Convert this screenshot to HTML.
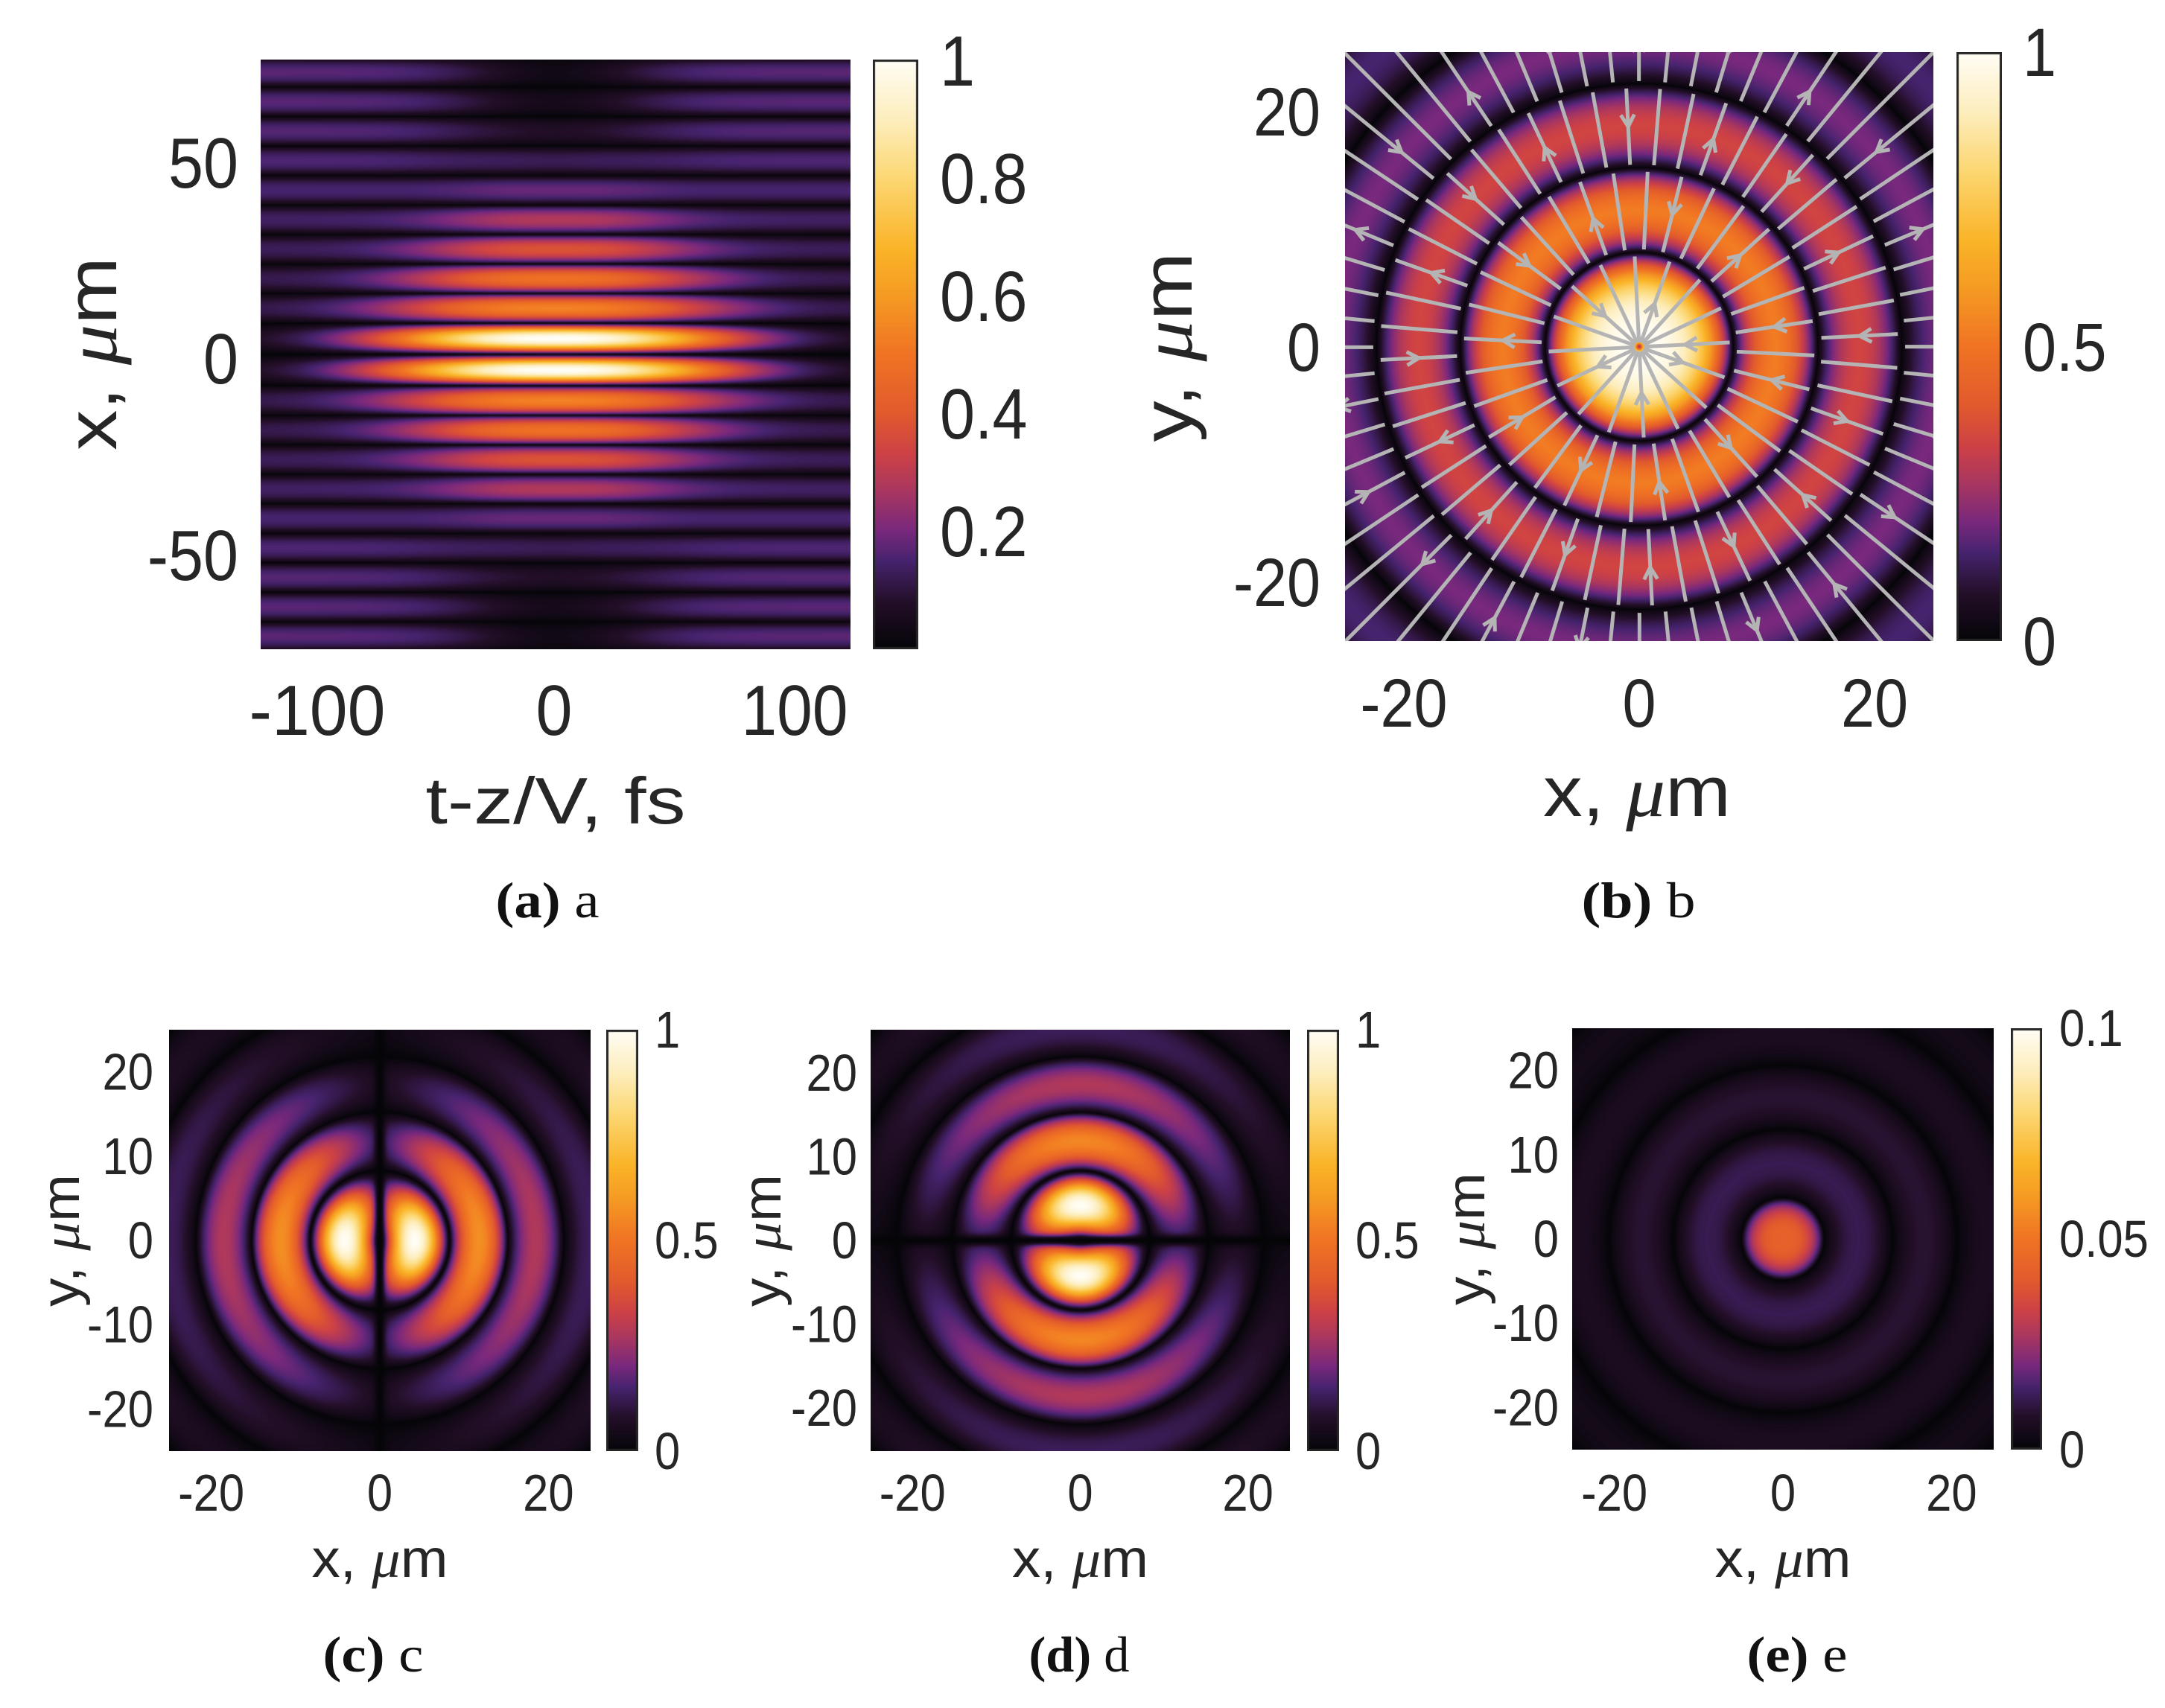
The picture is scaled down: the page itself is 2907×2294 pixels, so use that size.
<!DOCTYPE html>
<html><head><meta charset="utf-8"><style>
html,body{margin:0;padding:0;background:#fff;}
#root{position:relative;width:2907px;height:2294px;overflow:hidden;background:#fff;}
canvas{position:absolute;}
svg{position:absolute;left:0;top:0;}
text{font-family:"Liberation Sans",sans-serif;fill:#262626;}
.cap{font-family:"Liberation Serif",serif;fill:#111;}
</style></head><body>
<div id="root">
<canvas id="cvA"></canvas>
<canvas id="cvB"></canvas>
<canvas id="cvC"></canvas>
<canvas id="cvD"></canvas>
<canvas id="cvE"></canvas>
<canvas id="cbA"></canvas>
<canvas id="cbB"></canvas>
<canvas id="cbC"></canvas>
<canvas id="cbD"></canvas>
<canvas id="cbE"></canvas>
<svg id="ov" width="2907" height="2294" xmlns="http://www.w3.org/2000/svg">
<defs><clipPath id="clipB"><rect x="1806" y="70" width="790" height="791"/></clipPath></defs>
<g id="streams" clip-path="url(#clipB)"></g>
<g id="txt"></g>
</svg>
</div>
<script>
// ---------- data ----------
const cmapPos = [0,0.08,0.15,0.2,0.27,0.33,0.4,0.5,0.6,0.68,0.8,0.9,1];
const cmapRGB = [[5,5,8],[35,15,40],[70,35,110],[120,40,125],[170,55,95],[205,65,70],[225,90,45],[240,115,35],[245,155,35],[250,180,40],[252,215,115],[253,238,190],[255,253,245]];
// panel a
const fringeZerosA = [0,8,15.5,23,30.5,38,45.5,53,60.5,68,75.5,83];
const fringePeaksA = [1.0,0.52,0.47,0.36,0.26,0.16,0.1,0.05,0.02,0.01,0,0];
const fringeWidthsA = [72,66,60,54,48,42,37,32,28,26,24,22];
const bgLevelA = 0.17;
// panel b
const ringZerosB = [8.0,15.2,22.3,29.5,36.7];
const ringPeaksB = [1.0,0.52,0.34,0.2,0.15];
// panel c / d
const ringZerosC = [8.3,15.2,21.8,28.5,35];
const ringPeaksC = [1.0,0.57,0.28,0.13,0.08];
const ringZerosD = [8.3,15.2,21.8,28.5,35];
const ringPeaksD = [1.0,0.55,0.28,0.13,0.08];
// panel e
const ringZerosE = [4.9,13,20.6,28,35];
const ringPeaksE = [0.043,0.012,0.009,0.006,0.004];
// streamlines in b
const streamSegR = [0,8.0,15.2,22.3,40];
const streamCounts = [16,32,48,64];

// ---------- helpers ----------
const lut=[];
for(let i=0;i<256;i++){const t=i/255;let k=0;while(k<cmapPos.length-2&&t>cmapPos[k+1])k++;
 const f=(t-cmapPos[k])/(cmapPos[k+1]-cmapPos[k]);const a=cmapRGB[k],b=cmapRGB[k+1];
 lut.push([a[0]+(b[0]-a[0])*f,a[1]+(b[1]-a[1])*f,a[2]+(b[2]-a[2])*f]);}
function bump(u){return Math.pow(Math.abs(Math.sin(Math.PI*u)),0.8);}
function radial(r,zeros,peaks,centerPeak){
 if(r<zeros[0]){const u=r/zeros[0];
  if(centerPeak){return peaks[0]*Math.pow(1-Math.pow(u,3),0.9);}
  return peaks[0]*Math.pow(Math.abs(Math.sin(Math.PI*u)),1.1);}
 for(let i=1;i<zeros.length;i++){ if(r<zeros[i]){const u=(r-zeros[i-1])/(zeros[i]-zeros[i-1]);return peaks[i]*bump(u);} }
 const d=zeros[zeros.length-1]-zeros[zeros.length-2];const u=((r-zeros[zeros.length-1])/d)%1;return peaks[peaks.length-1]*bump(u);
}
function paint(id,L,T,W,H,x0,x1,y0,y1,vmax,fn){
 const c=document.getElementById(id);c.width=W;c.height=H;c.style.left=L+'px';c.style.top=T+'px';
 const ctx=c.getContext('2d');const img=ctx.createImageData(W,H);const d=img.data;
 for(let j=0;j<H;j++){const y=y1-(j+0.5)/H*(y1-y0);
  for(let i=0;i<W;i++){const x=x0+(i+0.5)/W*(x1-x0);
   let v=fn(x,y)/vmax;v=v<0?0:v>1?1:v;const col=lut[Math.round(v*255)];const p=(j*W+i)*4;
   d[p]=col[0];d[p+1]=col[1];d[p+2]=col[2];d[p+3]=255;}}
 ctx.putImageData(img,0,0);
}
function cbar(id,L,T,W,H){
 const c=document.getElementById(id);c.width=W;c.height=H;c.style.left=L+'px';c.style.top=T+'px';
 const ctx=c.getContext('2d');
 for(let j=0;j<H;j++){const col=lut[Math.round((1-j/(H-1))*255)];ctx.fillStyle='rgb('+col.map(Math.round).join(',')+')';ctx.fillRect(0,j,W,1);}
 ctx.strokeStyle='#262626';ctx.lineWidth=3;ctx.strokeRect(1.5,1.5,W-3,H-3);
}
// ---------- heatmaps ----------
paint('cvA',350,80,792,792,-125,125,-75,75,1,(t,x)=>{
 const ax=Math.abs(x);let k=0;while(k<fringeZerosA.length-1&&ax>=fringeZerosA[k+1])k++;
 const u=(ax-fringeZerosA[k])/(fringeZerosA[k+1]-fringeZerosA[k]);
 const s=Math.pow(Math.abs(Math.sin(Math.PI*u)),k===0?1.0:0.7);
 const w=fringeWidthsA[k];const main=fringePeaksA[k]*Math.exp(-Math.pow(Math.abs(t/w),2.3));
 const bg=bgLevelA*(1-0.85*Math.exp(-Math.pow(t/42,2)));
 return s*(main+bg*(1-fringePeaksA[k]*0.7));
});
paint('cvB',1806,70,790,791,-25,25,-25,25,1,(x,y)=>{const r=Math.hypot(x,y);let v=radial(r,ringZerosB,ringPeaksB,true);if(r<0.6)v*=r/0.6*0.8+0.2;return v;});
paint('cvC',227,1383,566,566,-25,25,-25,25,1,(x,y)=>{const r=Math.hypot(x,y);const c=r>0?x/r:0;
 return radial(r,ringZerosC,ringPeaksC,false)*(0.8*Math.abs(c)+0.2)*(1-Math.exp(-Math.pow(x/0.6,2)));});
paint('cvD',1169,1383,563,566,-25,25,-25,25,1,(x,y)=>{const r=Math.hypot(x,y);const c=r>0?y/r:0;
 return radial(r,ringZerosD,ringPeaksD,false)*(0.8*Math.abs(c)+0.2)*(1-Math.exp(-Math.pow(y/0.6,2)));});
paint('cvE',2111,1381,566,566,-25,25,-25,25,0.1,(x,y)=>radial(Math.hypot(x,y),ringZerosE,ringPeaksE,true));
cbar('cbA',1172,80,61,792);cbar('cbB',2627,70,61,791);cbar('cbC',814,1383,43,566);cbar('cbD',1755,1383,43,566);cbar('cbE',2700,1381,42,566);

// ---------- streamlines b ----------
const NS='http://www.w3.org/2000/svg';
const sg=document.getElementById('streams');
const bx=v=>2201+v*15.8, by=v=>466-v*15.8;
for(let s=0;s<streamCounts.length;s++){
 const n=streamCounts[s];
 for(let k=0;k<n;k++){
  const a=(k+0.5*(s%2))/n*2*Math.PI+0.05;
  const r0=streamSegR[s]+(s?0.3:0.4), r1=streamSegR[s+1]-0.3;
  const ln=document.createElementNS(NS,'line');
  
  
  ln.setAttribute('x1',bx(r0*Math.cos(a)));ln.setAttribute('y1',by(r0*Math.sin(a)));
  ln.setAttribute('x2',bx(r1*Math.cos(a)));ln.setAttribute('y2',by(r1*Math.sin(a)));
  ln.setAttribute('stroke','#b4b4b4');ln.setAttribute('stroke-width','5');sg.appendChild(ln);
  if(k%3===0){
   const rm=(r0+Math.min(r1,r0+7))/2, dir=(k%2?1:-1);
   const px=bx(rm*Math.cos(a)),py=by(rm*Math.sin(a));
   const ux=Math.cos(a)*dir, uy=-Math.sin(a)*dir;
   const pl=document.createElementNS(NS,'polyline');
   
   
   const L=16,Wd=9;
   pl.setAttribute('points',(px-ux*L-uy*Wd)+','+(py-uy*L+ux*Wd)+' '+px+','+py+' '+(px-ux*L+uy*Wd)+','+(py-uy*L-ux*Wd));
   pl.setAttribute('fill','none');pl.setAttribute('stroke','#b4b4b4');pl.setAttribute('stroke-width','5');sg.appendChild(pl);
  }
 }
}
// ---------- text ----------
const tg=document.getElementById('txt');
function T(str,name,x,y,size,len,anchor,rot,cls,cond){
 const e=document.createElementNS(NS,'text');
 
 
 e.setAttribute('x',x);e.setAttribute('y',y);e.setAttribute('font-size',size);
 e.setAttribute('text-anchor',anchor||'start');
 if(rot)e.setAttribute('transform','rotate(-90 '+x+' '+y+')');
 if(cls)e.setAttribute('class',cls);
 e.innerHTML=str;tg.appendChild(e);
 let L=len;
 if(!L&&cond){L=e.getComputedTextLength()*cond;}
 if(L){e.setAttribute('textLength',L);e.setAttribute('lengthAdjust','spacingAndGlyphs');}
 return e;
}
const C=0.88;
const aXTicks=['-100','0','100'], aXTickPos=[426,744,1067], aXTickW=[183,49,143];
const aYTicks=['50','0','-50'], aYTickPos=[218,481,745];
const aCTicks=['1','0.8','0.6','0.4','0.2'], aCTickPos=[81,239,397,555,713];
aXTicks.forEach((s,i)=>T(s,'x-tick-a',aXTickPos[i],987,96,aXTickW[i],'middle'));
aYTicks.forEach((s,i)=>T(s,'y-tick-a',320,aYTickPos[i]+34,96,null,'end',false,null,C));
aCTicks.forEach((s,i)=>T(s,'colorbar-tick-a',1262,aCTickPos[i]+34,96,null,'start',false,null,C));
T('t-z/V, fs','x-axis-title-a',746,1106,88,349,'middle');
T('x, <tspan font-family="Liberation Serif" font-style="italic">μ</tspan>m','y-axis-title-a',156,475,96,260,'middle',true);
T('<tspan font-weight="bold">(a)</tspan> a','caption-a',735,1232,68,139,'middle',false,'cap');

const bTicks=['-20','0','20'], bTickPos=[-20,0,20];
bTicks.forEach((s,i)=>T(s,'x-tick-b',bx(bTickPos[i]),976,92,null,'middle',false,null,C));
bTicks.forEach((s,i)=>T(s,'y-tick-b',1773,by(bTickPos[i])+32,92,null,'end',false,null,C));
const bCTicks=['1','0.5','0'], bCTickPos=[70,466,861];
bCTicks.forEach((s,i)=>T(s,'colorbar-tick-b',2716,bCTickPos[i]+32,92,null,'start',false,null,C));
T('x, <tspan font-family="Liberation Serif" font-style="italic">μ</tspan>m','x-axis-title-b',2198,1096,96,252,'middle');
T('y, <tspan font-family="Liberation Serif" font-style="italic">μ</tspan>m','y-axis-title-b',1600,466,96,255,'middle',true);
T('<tspan font-weight="bold">(b)</tspan> b','caption-b',2200,1232,68,153,'middle',false,'cap');

const small=[{id:'c',L:227,R:793,T:1383,B:1949,cb:814,cbL:879,yr:206,yl:88,cap:'c',cx:501,vt:['1','0.5','0']},
 {id:'d',L:1169,R:1732,T:1383,B:1949,cb:1755,cbL:1820,yr:1151,yl:1030,cap:'d',cx:1449,vt:['1','0.5','0']},
 {id:'e',L:2111,R:2677,T:1381,B:1947,cb:2700,cbL:2765,yr:2093,yl:1975,cap:'e',cx:2413,vt:['0.1','0.05','0']}];
const sTicks=['-20','0','20'], sTickVal=[-20,0,20];
const sYTicks=['20','10','0','-10','-20'], sYTickVal=[20,10,0,-10,-20];
small.forEach(p=>{
 const cx=(p.L+p.R)/2, cy=(p.T+p.B)/2, s=(p.R-p.L)/50;
 sTicks.forEach((t,i)=>T(t,'x-tick-'+p.id,cx+sTickVal[i]*s,2029,70,null,'middle',false,null,C));
 sYTicks.forEach((t,i)=>T(t,'y-tick-'+p.id,p.yr,cy-sYTickVal[i]*s+24,70,null,'end',false,null,C));
 p.vt.forEach((t,i)=>T(t,'colorbar-tick-'+p.id,p.cbL,p.T+i*(p.B-p.T)/2+24,70,null,'start',false,null,C));
 T('x, <tspan font-family="Liberation Serif" font-style="italic">μ</tspan>m','x-axis-title-'+p.id,cx,2118,72,183,'middle');
 T('y, <tspan font-family="Liberation Serif" font-style="italic">μ</tspan>m','y-axis-title-'+p.id,p.yl+18,cy,72,178,'middle',true);
 T('<tspan font-weight="bold">('+p.cap+')</tspan> '+p.cap,'caption-'+p.id,p.cx,2245,68,135,'middle',false,'cap');
});
</script>
</body></html>
